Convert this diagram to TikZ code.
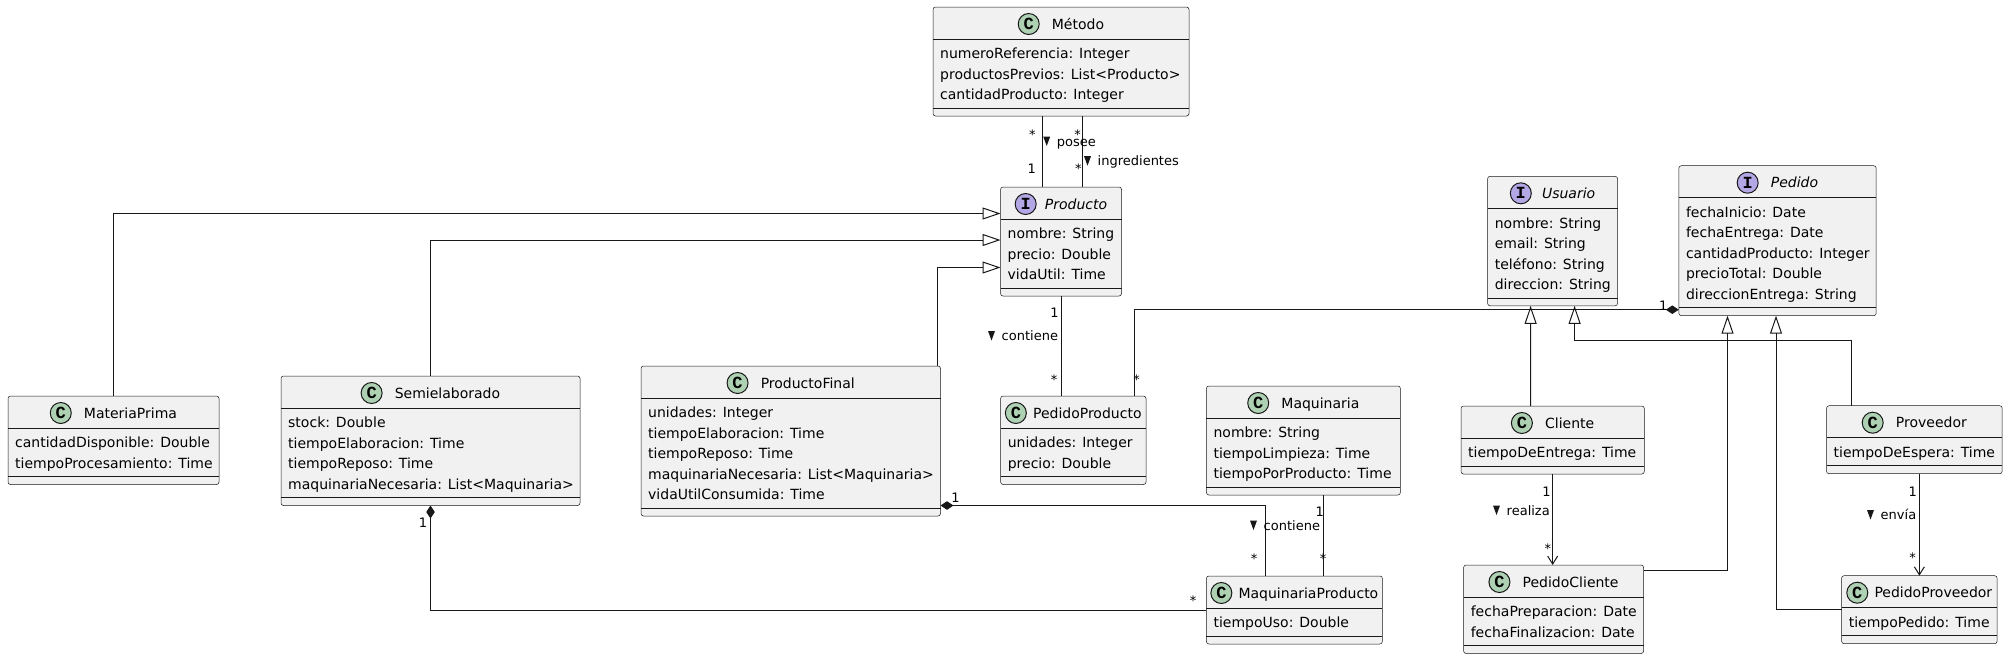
\documentclass[tikz,border=0pt]{standalone}
\usepackage{fontspec}
\setmainfont{DejaVu Sans}
\newfontfamily\spotfont{Liberation Mono}
\usetikzlibrary{arrows.meta}

\definecolor{umlline}{HTML}{181818}
\definecolor{umlfill}{HTML}{F1F1F1}
\definecolor{spotclass}{HTML}{ADD1B2}
\definecolor{spotiface}{HTML}{B4A7E5}

\tikzset{
  classbox/.style={draw=umlline, fill=umlfill, line width=0.5pt, rounded corners=2.5pt, inner sep=0pt, outer sep=0pt},
  sepline/.style={draw=umlline, line width=0.5pt},
  clstitle/.style={inner sep=0pt, font=\fontsize{14}{16}\selectfont},
  spot/.style={circle, draw=umlline, line width=1pt, inner sep=0pt, minimum size=21pt, font=\spotfont\bfseries\fontsize{17}{17}\selectfont},
  spotC/.style={spot, fill=spotclass},
  spotI/.style={spot, fill=spotiface},
  attrs/.style={inner sep=0pt, align=left, font=\fontsize{14}{20.5}\selectfont},
  mult/.style={inner sep=0pt, anchor=base, font=\fontsize{13}{15}\selectfont},
  assoc/.style={inner sep=0pt, anchor=base west, font=\fontsize{13}{15}\selectfont},
  link/.style={draw=umlline, line width=1pt},
  gen/.style={link, -{Triangle[open, length=18pt, width=12pt]}},
  comp/.style={link, {Diamond[length=13pt, width=8.5pt]}-},
  nav/.style={link, -{Straight Barb[length=8pt, width=10pt]}},
}

% [gap]{name}{C/I}{title}{x}{y}{width}{rows}{attributes}
\newcommand{\umlclass}[9][12]{%
  \node[classbox, minimum width=#7, minimum height={47.5+20.5*#8}, anchor=north west] (#2) at (#5,#6) {};
  \draw[sepline] ([yshift=-32pt]#2.north west) -- ([yshift=-32pt]#2.north east);
  \draw[sepline] ([yshift=8pt]#2.south west) -- ([yshift=8pt]#2.south east);
  \node[clstitle, anchor=base] (#2-t) at ([yshift=-22pt]#2.north) {\hspace*{\dimexpr 22pt+#1pt\relax}#4};
  \node[spot#3] (#2-i) at ([xshift=11pt, yshift=5pt]#2-t.base west) {#3};
  \node[attrs, anchor=north west] (#2-a) at ([xshift=7pt, yshift=-37.15pt]#2.north west) {\strut #9};
}

\begin{document}
\begin{tikzpicture}[x=1pt,y=-1pt]
\useasboundingbox (0,0) rectangle (2008,659);

% classes
\umlclass{metodo}{C}{Método}{933}{7}{256}{3}{numeroReferencia: Integer\\productosPrevios: List<Producto>\\cantidadProducto: Integer}
\umlclass[8]{producto}{I}{\itshape Producto}{1000.5}{187}{121}{3}{nombre: String\\precio: Double\\vidaUtil: Time}
\umlclass{materia}{C}{MateriaPrima}{8}{396}{211}{2}{cantidadDisponible: Double\\tiempoProcesamiento: Time}
\umlclass{semi}{C}{Semielaborado}{281}{376}{299}{4}{stock: Double\\tiempoElaboracion: Time\\tiempoReposo: Time\\maquinariaNecesaria: List<Maquinaria>}
\umlclass{prodfinal}{C}{ProductoFinal}{641}{366}{299.5}{5}{unidades: Integer\\tiempoElaboracion: Time\\tiempoReposo: Time\\maquinariaNecesaria: List<Maquinaria>\\vidaUtilConsumida: Time}
\umlclass[6]{pedprod}{C}{PedidoProducto}{1000.6}{396}{145.4}{2}{unidades: Integer\\precio: Double}
\umlclass{maquinaria}{C}{Maquinaria}{1206.4}{386}{194}{3}{nombre: String\\tiempoLimpieza: Time\\tiempoPorProducto: Time}
\umlclass[6]{maqprod}{C}{MaquinariaProducto}{1206.4}{576}{176}{1}{tiempoUso: Double}
\umlclass[10]{usuario}{I}{\itshape Usuario}{1487.6}{176.3}{130}{4}{nombre: String\\email: String\\teléfono: String\\direccion: String}
\umlclass{pedido}{I}{\itshape Pedido}{1678.8}{165.7}{197.4}{5}{fechaInicio: Date\\fechaEntrega: Date\\cantidadProducto: Integer\\precioTotal: Double\\direccionEntrega: String}
\umlclass{cliente}{C}{Cliente}{1461}{406}{183.3}{1}{tiempoDeEntrega: Time}
\umlclass{pedcli}{C}{PedidoCliente}{1463.6}{565}{180}{2}{fechaPreparacion: Date\\fechaFinalizacion: Date}
\umlclass{proveedor}{C}{Proveedor}{1826.5}{405.7}{175.7}{1}{tiempoDeEspera: Time}
\umlclass[6]{pedprov}{C}{PedidoProveedor}{1841.6}{575.7}{155.5}{1}{tiempoPedido: Time}

% connectors
\draw[link] ([xshift=-19pt]metodo.south) -- ([xshift=-19pt]producto.north);
\draw[link] ([xshift=21pt]metodo.south) -- ([xshift=21pt]producto.north);
\draw[gen] (materia.north) |- ([yshift=28pt]producto.west);
\draw[gen] (semi.north) |- ([yshift=1.5pt]producto.west);
\draw[gen] ([xshift=-3.5pt]prodfinal.north east) |- ([yshift=-26pt]producto.west);
\draw[link] (producto.south) -- (producto.south |- pedprod.north);
\draw[comp] ([yshift=6pt]pedido.south west) -| ([xshift=-12pt]pedprod.north east);
\draw[comp] ([yshift=10.5pt]prodfinal.south east) -| ([xshift=59pt]maqprod.north west);
\draw[comp] (semi.south) |- (maqprod.west);
\coordinate (maqdrop) at ([xshift=117pt]maquinaria.south west);
\draw[link] (maqdrop) -- (maqdrop |- maqprod.north);
\draw[gen] ([xshift=-22pt]cliente.north) -- ([xshift=-22pt]usuario.south);
\draw[gen] ([xshift=25pt]proveedor.north west) |- ([xshift=22pt, yshift=-35pt]usuario.south) -- ([xshift=22pt]usuario.south);
\draw[gen] ([yshift=-5.5pt]pedcli.north east) -| ([xshift=-50pt]pedido.south);
\draw[gen] (pedprov.west) -| ([xshift=-1.5pt]pedido.south);
\draw[nav] (cliente.south) -- (cliente.south |- pedcli.north);
\draw[nav] (pedprov.north |- proveedor.south) -- (pedprov.north);

% multiplicities
\foreach \x/\y/\t [count=\i] in {1032.3/139/*, 1031.7/173.3/1, 1077.7/139/*, 1078.3/173/*,
    1054.6/317/1, 1054/384/*, 1136.6/384/*, 1663.3/310/1, 955.5/502.7/1, 1319.7/516.7/1,
    1254.2/563.5/*, 1323.1/563.5/*, 423/527.3/1, 1193/605/*, 1546.6/496.7/1, 1547.8/553.5/*,
    1912.7/496/1, 1912.7/562.5/*}
  \node[mult] (mult\i) at (\x,\y) {\t};

% association names
\foreach \x/\y/\t [count=\i] in {1046.7/146/posee, 1087.5/165.7/ingredientes, 991.5/340.5/contiene,
    1253.5/530/contiene, 1496.5/515/realiza, 1870.5/519.5/envía}{
  \fill[umlline] (\x-3.5,\y-9.5) -- (\x+3.5,\y-9.5) -- (\x,\y) -- cycle;
  \node[assoc] (assoc\i) at (\x+10,\y) {\t};
}
\end{tikzpicture}
\end{document}
